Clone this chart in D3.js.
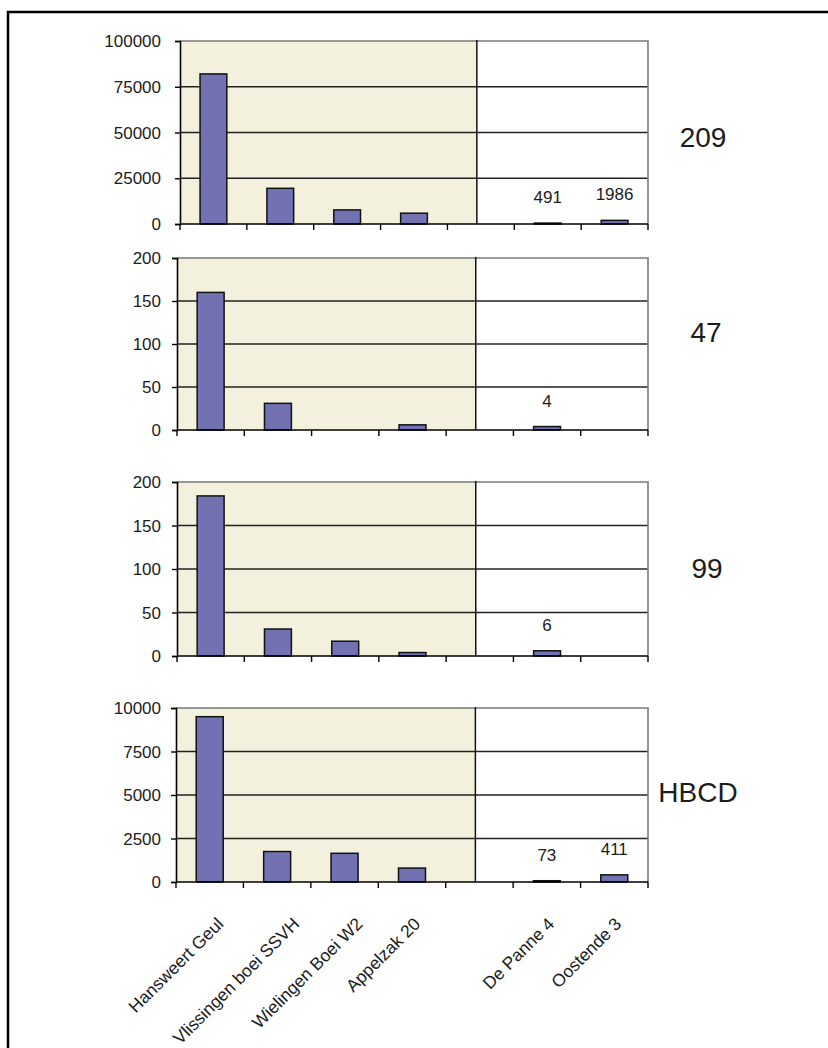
<!DOCTYPE html>
<html>
<head>
<meta charset="utf-8">
<script src="https://cdn.jsdelivr.net/npm/d3@7"></script>
<style>
  html, body { margin: 0; padding: 0; background: #fff; }
  svg { display: block; font-family: "Liberation Sans", Arial, sans-serif; }
</style>
</head>
<body>
<svg id="chart" width="828" height="1048"></svg>
<script>
// Sampling stations along the x axis ("" is the spacer between the two groups)
const categories = ["Hansweert Geul", "Vlissingen boei SSVH", "Wielingen Boei W2", "Appelzak 20", "", "De Panne 4", "Oostende 3"];
const gapKey = "";

// Panel titles (congener / compound)
const panelNames = ["209", "47", "99", "HBCD"];

// Concentrations per station, one array per panel (null = no bar)
const values209  = [82000, 19500, 7700, 5900, null, 491, 1986];
const values47   = [160, 31, null, 6, null, 4, null];
const values99   = [184, 31, 17, 4, null, 6, null];
const valuesHBCD = [9500, 1750, 1650, 800, null, 73, 411];

// Y-axis maxima and tick labels for each panel
const yMax = [100000, 200, 200, 10000];
const ticks209  = [0, 25000, 50000, 75000, 100000];
const ticks47   = [0, 50, 100, 150, 200];
const ticks99   = [0, 50, 100, 150, 200];
const ticksHBCD = [0, 2500, 5000, 7500, 10000];

// Stations whose value is printed above the bar
const labelled = ["De Panne 4", "Oostende 3"];

const seriesList = [values209, values47, values99, valuesHBCD];
const tickList = [ticks209, ticks47, ticks99, ticksHBCD];

// Panel geometry
const layout = [
  { left: 180, right: 648, top: 41,  bottom: 224, nameX: 703, nameY: 137 },
  { left: 177, right: 648, top: 258, bottom: 430, nameX: 706, nameY: 332 },
  { left: 177, right: 648, top: 482, bottom: 656, nameX: 707, nameY: 568 },
  { left: 176, right: 648, top: 708, bottom: 882, nameX: 698, nameY: 792 }
];

const svg = d3.select("#chart");
const shade = "#f3f1de";
const barFill = "#7272b3";
const textCol = "#1c1c1c";

// Outer frame
svg.append("path")
  .attr("d", "M8,1048 V12 H828")
  .attr("fill", "none").attr("stroke", "#000").attr("stroke-width", 2.5);

layout.forEach((L, i) => {
  const vals = seriesList[i];
  const x = d3.scaleBand().domain(categories).range([L.left, L.right]).paddingInner(0).paddingOuter(0);
  const y = d3.scaleLinear().domain([0, yMax[i]]).range([L.bottom, L.top]);
  const g = svg.append("g");

  // Shaded block behind the first station group
  const splitX = x(gapKey) + x.bandwidth() * 0.44;
  g.append("rect")
    .attr("x", L.left).attr("y", L.top)
    .attr("width", splitX - L.left).attr("height", L.bottom - L.top)
    .attr("fill", shade);

  // Horizontal gridlines
  g.selectAll("line.grid").data(tickList[i].filter(t => t > 0 && t < yMax[i])).enter()
    .append("line")
    .attr("x1", L.left).attr("x2", L.right)
    .attr("y1", d => y(d)).attr("y2", d => y(d))
    .attr("stroke", "#222").attr("stroke-width", 1.4);

  // Plot-area border (top and right)
  g.append("path")
    .attr("d", `M${L.left},${y(yMax[i])} H${L.right} V${L.bottom}`)
    .attr("fill", "none").attr("stroke", "#7a7a7a").attr("stroke-width", 1.6);

  // Divider between the two groups
  g.append("line")
    .attr("x1", splitX).attr("x2", splitX)
    .attr("y1", L.top - 1).attr("y2", L.bottom)
    .attr("stroke", "#111").attr("stroke-width", 1.5);

  // Bars
  const rows = categories.map((c, k) => ({ c, v: vals[k] })).filter(d => d.c !== gapKey && d.v != null);
  const bw = x.bandwidth() * 0.4;
  g.selectAll("rect.bar").data(rows).enter()
    .append("rect")
    .attr("x", d => x(d.c) + (x.bandwidth() - bw) / 2)
    .attr("width", bw)
    .attr("y", d => y(d.v))
    .attr("height", d => Math.max(0, y(0) - y(d.v)))
    .attr("fill", barFill).attr("stroke", "#111").attr("stroke-width", 1.5);

  // Value labels
  g.selectAll("text.val").data(rows.filter(d => labelled.includes(d.c))).enter()
    .append("text")
    .attr("x", d => x(d.c) + x.bandwidth() / 2)
    .attr("y", d => y(d.v) - 20)
    .attr("text-anchor", "middle")
    .attr("font-size", 17).attr("fill", textCol)
    .text(d => d3.format("d")(d.v));

  // Y axis
  const yAxis = d3.axisLeft(y).tickValues(tickList[i]).tickSize(5).tickFormat("");
  const ya = g.append("g").attr("transform", `translate(${L.left},0)`).call(yAxis);
  ya.select(".domain").attr("stroke", "#000").attr("stroke-width", 1.6);
  ya.selectAll(".tick line").attr("stroke", "#000").attr("stroke-width", 1.4);

  g.selectAll("text.ytick").data(tickList[i]).enter()
    .append("text")
    .attr("x", 161).attr("y", d => y(d))
    .attr("dy", "0.36em")
    .attr("text-anchor", "end")
    .attr("font-size", 17).attr("fill", textCol)
    .text(d => d);

  // X axis with ticks at slot boundaries
  const bounds = categories.map(c => x(c)).concat([L.right]);
  g.append("line")
    .attr("x1", L.left).attr("x2", L.right)
    .attr("y1", L.bottom).attr("y2", L.bottom)
    .attr("stroke", "#000").attr("stroke-width", 1.6);
  g.selectAll("line.xt").data(bounds).enter()
    .append("line")
    .attr("x1", d => d).attr("x2", d => d)
    .attr("y1", L.bottom).attr("y2", L.bottom + 6)
    .attr("stroke", "#000").attr("stroke-width", 1.4);

  // Panel title
  g.append("text")
    .attr("x", L.nameX).attr("y", L.nameY)
    .attr("dy", "0.36em")
    .attr("text-anchor", "middle")
    .attr("font-size", 28).attr("fill", textCol)
    .text(panelNames[i]);

  // Rotated station names under the bottom panel; longer names sit further right
  if (i === layout.length - 1) {
    g.selectAll("text.xl").data(categories.filter(c => c !== gapKey)).enter()
      .append("text")
      .attr("text-anchor", "end")
      .attr("font-size", 17.5).attr("fill", textCol)
      .text(d => d)
      .each(function (d) {
        const len = this.getComputedTextLength();
        const shift = 8.5 + 0.19 * (len - 92);
        const cx = x(d) + x.bandwidth() / 2 + shift;
        d3.select(this).attr("transform", `translate(${cx},${L.bottom + 43}) rotate(-45)`);
      });
  }
});
</script>
</body>
</html>
